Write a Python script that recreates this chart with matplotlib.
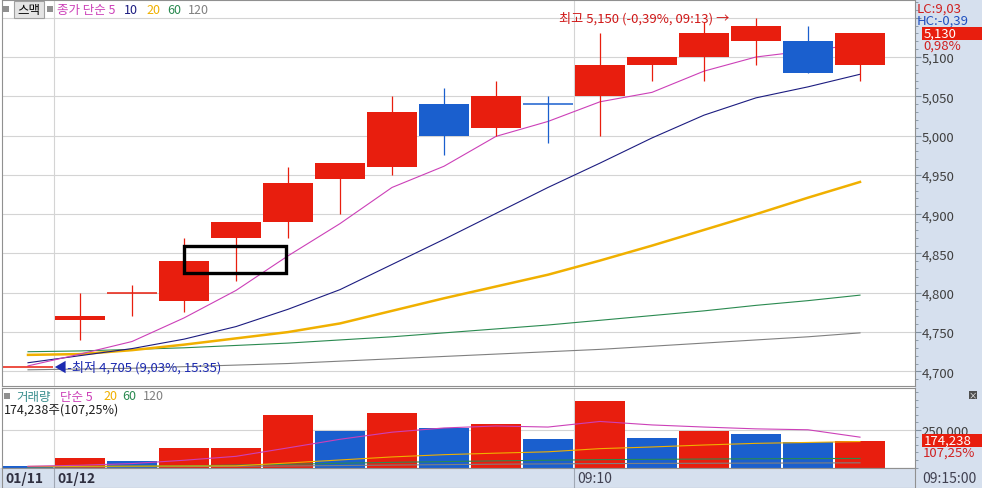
import matplotlib.pyplot as plt
import matplotlib.ticker as mticker
from matplotlib.patches import Rectangle

plt.rcParams['font.family'] = ['Noto Sans CJK KR', 'DejaVu Sans']

W, H = 982, 489

## donnees
opens  = [4705, 4765, 4800, 4790, 4870, 4890, 4945, 4960, 5040, 5010, 5040, 5050, 5090, 5100, 5120, 5120, 5090]
closes = [4705, 4770, 4800, 4840, 4890, 4940, 4965, 5030, 5000, 5050, 5040, 5090, 5100, 5130, 5140, 5080, 5130]
highs  = [4705, 4800, 4810, 4870, 4890, 4960, 4965, 5050, 5060, 5070, 5050, 5130, 5100, 5145, 5150, 5140, 5130]
lows   = [4705, 4740, 4770, 4775, 4815, 4870, 4900, 4950, 4975, 5000, 4990, 5000, 5070, 5070, 5090, 5080, 5070]

ma5   = [4707, 4722, 4738, 4768, 4803, 4847, 4888, 4934, 4961, 4999, 5018, 5043, 5055, 5082, 5100, 5108, 5116]
ma10  = [4711, 4720, 4729, 4741, 4757, 4779, 4804, 4836, 4868, 4901, 4934, 4965, 4997, 5026, 5048, 5062, 5078]
ma20  = [4721, 4722, 4727, 4734, 4742, 4750, 4761, 4777, 4793, 4808, 4823, 4841, 4860, 4880, 4900, 4921, 4941]
ma60  = [4725, 4726, 4728, 4730, 4733, 4736, 4740, 4744, 4749, 4754, 4759, 4765, 4771, 4777, 4784, 4790, 4797]
ma120 = [4702, 4703, 4704, 4706, 4708, 4710, 4713, 4716, 4719, 4722, 4725, 4728, 4732, 4736, 4740, 4744, 4749]

volumes = [10000, 62000, 40000, 129000, 130000, 348000, 243000, 363000, 262000, 290000,
           189000, 442000, 195000, 243000, 222000, 167000, 174238]
vol_up  = [False, True, False, True, True, True, False, True, False, True,
           False, True, False, True, False, False, True]
vma5   = [8000, 15000, 26000, 48000, 74000, 130000, 187000, 234000, 262000, 275000,
          268000, 305000, 282000, 268000, 256000, 250000, 201000]
vma20  = [7000, 8000, 9000, 10000, 11000, 30000, 50000, 70000, 85000, 95000,
          104000, 125000, 136000, 149000, 160000, 166000, 172000]
vma60  = [4000, 6000, 8000, 11000, 16000, 21000, 28000, 34000, 39000, 44000,
          48000, 52000, 54000, 56000, 58000, 59000, 60000]
vma120 = [3000, 4000, 5000, 6000, 8000, 10000, 13000, 16000, 19000, 22000,
          24000, 26000, 27000, 28000, 29000, 30000, 31000]

date_pos = [0, 1, 11]
date_labels = ['01/11', '01/12', '09:10']

# annotation (cadre noir dessine par l'utilisateur)
box_x = (3.0, 4.97)
box_y = (4825, 4859)

## couleurs
RED = '#e81e0e'
BLUE = '#1a5fce'
PANEL = '#d6e0ee'
GRID = '#d4d4d4'
C5, C10, C20, C60, C120 = '#cc40b8', '#1c1c80', '#f0b000', '#2a8a50', '#808080'


def fx(x):
    return x / W


def fy(y):
    return 1 - y / H


fig = plt.figure(figsize=(W / 100, H / 100), dpi=100)
fig.patch.set_facecolor('white')

# fonds (panneau droit et bande des dates), sous les axes
fig.patches.append(Rectangle((fx(915), 0), 1 - fx(915), 1, transform=fig.transFigure,
                             facecolor=PANEL, edgecolor='none', zorder=-5))
fig.patches.append(Rectangle((0, 0), 1, 20.5 / H, transform=fig.transFigure,
                             facecolor=PANEL, edgecolor='none', zorder=-5))

x0, x1 = 2, 915
xlim = (-0.5, (x1 - 28) / 52)
n = len(opens)
xs = list(range(n))

## graphique des prix
ax = fig.add_axes([fx(x0), fy(387), (x1 - x0) / W, 386 / H])
ax.set_xlim(*xlim)
ax.set_ylim(4681.4, 5172.5)

# bougies
for i in range(n):
    o, c = opens[i], closes[i]
    if c > o:
        up = True
    elif c < o:
        up = False
    else:
        up = i == 0 or c >= closes[i - 1]
    col = RED if up else BLUE
    ax.vlines(i, lows[i], highs[i], color=col, lw=0.9, zorder=3)
    if c == o:
        ax.hlines(c, i - 0.49, i + 0.49, color=col, lw=1.1, zorder=3)
    else:
        ax.bar(i, abs(c - o), bottom=min(o, c), width=0.98, color=col, zorder=3, lw=0)

# moyennes mobiles
ax.plot(xs, ma120, color=C120, lw=0.8, zorder=2)
ax.plot(xs, ma60, color=C60, lw=0.8, zorder=2)
ax.plot(xs, ma20, color=C20, lw=1.8, zorder=2)
ax.plot(xs, ma10, color=C10, lw=0.8, zorder=2)
ax.plot(xs, ma5, color=C5, lw=0.8, zorder=2)

ax.add_patch(Rectangle((box_x[0], box_y[0]), box_x[1] - box_x[0], box_y[1] - box_y[0],
                       fill=False, edgecolor='black', lw=2.4, zorder=6))

# grilles
ax.yaxis.set_major_locator(mticker.MultipleLocator(50))
ax.yaxis.set_minor_locator(mticker.MultipleLocator(10))
ax.yaxis.set_major_formatter(mticker.FuncFormatter(
    lambda v, p: f'{v:,.0f}' if v <= 5100 else ''))
ax.yaxis.tick_right()
ax.tick_params(axis='y', which='major', direction='out', length=4, width=0.8,
               color='#8090a0', labelsize=9.5, labelcolor='#404040', pad=1)
ax.tick_params(axis='y', which='minor', direction='out', length=2, width=0.6, color='#8090a0')
ax.set_xticks([])
ax.grid(axis='y', which='major', color=GRID, lw=0.8, zorder=0)
for p in date_pos[1:]:
    ax.axvline(p - 0.5, color=GRID, lw=0.8, zorder=0)
for s in ax.spines.values():
    s.set_color('#909090')
    s.set_linewidth(0.8)

# plus haut / plus bas
i_hi = highs.index(max(highs))
i_lo = lows.index(min(lows))
ax.annotate(f'최고 {max(highs):,} (-0,39%, 09:13) →', (i_hi - 0.5, max(highs)),
            xytext=(-1, 0), textcoords='offset pixels', ha='right', va='center',
            color='#d01818', fontsize=9.5, zorder=7)
ax.annotate(f'◀-최저 {min(lows):,} (9,03%, 15:35)', (i_lo + 0.5, min(lows)),
            xytext=(0, 1), textcoords='offset pixels', ha='left', va='center',
            color='#1c2ab0', fontsize=9.5, zorder=7)

## graphique du volume
axv = fig.add_axes([fx(x0), fy(468.5), (x1 - x0) / W, 79.5 / H])
axv.set_xlim(*xlim)
axv.set_ylim(0, 526700)
axv.bar(xs, volumes, width=0.98, color=[RED if u else BLUE for u in vol_up], lw=0, zorder=2)
axv.plot(xs, vma120, color=C120, lw=0.8, zorder=3)
axv.plot(xs, vma60, color=C60, lw=0.8, zorder=3)
axv.plot(xs, vma20, color=C20, lw=0.8, zorder=3)
axv.plot(xs, vma5, color=C5, lw=0.8, zorder=3)
axv.yaxis.set_major_locator(mticker.FixedLocator([250000]))
axv.yaxis.set_minor_locator(mticker.MultipleLocator(50000))
axv.yaxis.set_major_formatter(mticker.FuncFormatter(lambda v, p: f'{v:,.0f}'))
axv.yaxis.tick_right()
axv.tick_params(axis='y', which='major', direction='out', length=4, width=0.8,
                color='#8090a0', labelsize=9.5, labelcolor='#404040', pad=1)
axv.tick_params(axis='y', which='minor', direction='out', length=2, width=0.6, color='#8090a0')
axv.set_xticks([])
axv.grid(axis='y', which='major', color=GRID, lw=0.8, zorder=0)
for p in date_pos[1:]:
    axv.axvline(p - 0.5, color=GRID, lw=0.8, zorder=1)
for s in axv.spines.values():
    s.set_color('#909090')
    s.set_linewidth(0.8)

## bande des dates
axb = fig.add_axes([fx(x0), 0, (x1 - x0) / W, 20.5 / H])
axb.set_xlim(*xlim)
axb.set_facecolor(PANEL)
axb.set_xticks([])
axb.set_yticks([])
for s in axb.spines.values():
    s.set_color('#909090')
    s.set_linewidth(0.8)
for p, lbl in zip(date_pos, date_labels):
    if p > 0:
        axb.axvline(p - 0.5, color='#a0a8b4', lw=0.8)
    bold = lbl.startswith('01')
    axb.annotate(lbl, (p - 0.5, 0.5), xycoords=('data', 'axes fraction'),
                 xytext=(3, 0), textcoords='offset pixels', va='center', fontsize=10,
                 color='#303040' if bold else '#404050',
                 fontweight='bold' if bold else 'normal')
fig.text(fx(922), fy(479), '09:15:00', va='center', fontsize=10, color='#404050')

## legendes
fig.patches.append(Rectangle((fx(3), fy(13)), 6 / W, 6 / H, transform=fig.transFigure,
                             facecolor='#909090', edgecolor='none', zorder=5))
fig.patches.append(Rectangle((fx(14), fy(19)), 30 / W, 17 / H, transform=fig.transFigure,
                             facecolor='#e4e4e4', edgecolor='#a0a0a0', lw=0.8, zorder=5))
fig.text(fx(29), fy(10.5), '스맥', ha='center', va='center', fontsize=9, color='black', zorder=6)
fig.patches.append(Rectangle((fx(47), fy(13)), 6 / W, 6 / H, transform=fig.transFigure,
                             facecolor='#909090', edgecolor='none', zorder=5))
for x, t, c in [(57, '종가 단순 5', C5), (124, '10', C10), (146, '20', C20),
                (167, '60', C60), (188, '120', C120)]:
    fig.text(fx(x), fy(10.5), t, va='center', fontsize=9, color=c, zorder=6)

fig.patches.append(Rectangle((fx(4), fy(400)), 6 / W, 6 / H, transform=fig.transFigure,
                             facecolor='#909090', edgecolor='none', zorder=5))
for x, t, c in [(16, '거래량', '#3a8e8e'), (60, '단순 5', C5), (103, '20', C20),
                (122, '60', C60), (143, '120', C120)]:
    fig.text(fx(x), fy(397), t, va='center', fontsize=9, color=c, zorder=6)
fig.text(fx(4), fy(410), f'{volumes[-1]:,}주(107,25%)', va='center', fontsize=9,
         color='#202020', zorder=6)

## panneau droit
fig.text(fx(917), fy(9), 'LC:9,03', va='center', fontsize=9.5, color='#d02020')
fig.text(fx(917), fy(21), 'HC:-0,39', va='center', fontsize=9.5, color='#2050c0')
fig.patches.append(Rectangle((fx(922), fy(40.5)), 60 / W, 12.5 / H, transform=fig.transFigure,
                             facecolor=RED, edgecolor='none', zorder=5))
fig.text(fx(924), fy(34), f'{closes[-1]:,}', va='center', fontsize=9.5, color='white', zorder=6)
fig.text(fx(923), fy(46), '0,98%', va='center', fontsize=9.5, color='#d02020', zorder=6)

fig.patches.append(Rectangle((fx(922), fy(447.5)), 60 / W, 12.5 / H, transform=fig.transFigure,
                             facecolor=RED, edgecolor='none', zorder=5))
fig.text(fx(924), fy(441), f'{volumes[-1]:,}', va='center', fontsize=9.5, color='white', zorder=6)
fig.text(fx(923), fy(453), '107,25%', va='center', fontsize=9.5, color='#d02020', zorder=6)
fig.patches.append(Rectangle((fx(969), fy(400)), 8 / W, 8 / H, transform=fig.transFigure,
                             facecolor='#505050', edgecolor='none', zorder=5))
fig.text(fx(973), fy(396), '×', ha='center', va='center', fontsize=6, color='white', zorder=6)

fig.savefig('out.png', dpi=100)
